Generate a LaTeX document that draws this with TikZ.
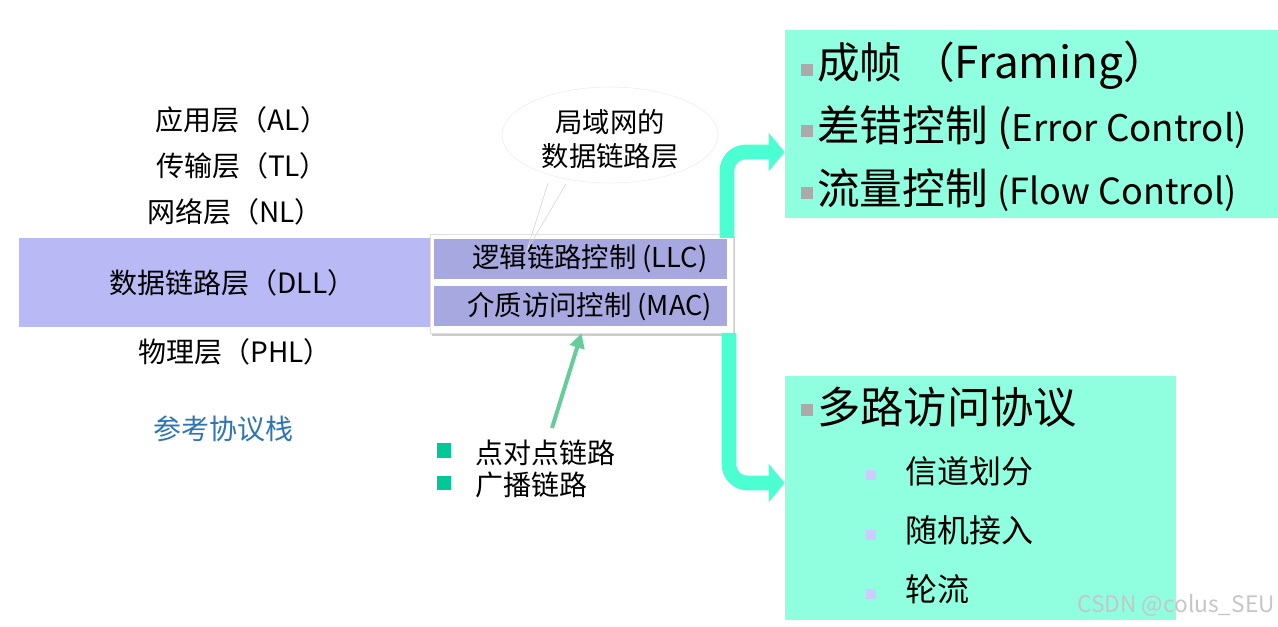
\documentclass[tikz,border=0pt]{standalone}
\usepackage{fontspec}
\setmainfont{Noto Sans CJK SC}
\usetikzlibrary{arrows.meta,shapes.geometric,shadows,calc}
\definecolor{dllfill}{RGB}{185,185,245}
\definecolor{subfill}{RGB}{168,168,224}
\definecolor{boxfill}{RGB}{143,255,224}
\definecolor{bigarr}{RGB}{75,255,210}
\definecolor{thinarr}{RGB}{102,204,153}
\definecolor{bulgreen}{RGB}{0,200,150}
\definecolor{bulgray}{RGB}{170,170,170}
\definecolor{bullav}{RGB}{204,204,255}
\definecolor{stackblue}{RGB}{46,117,182}
\newcommand{\fs}[1]{\fontsize{#1}{#1}\selectfont}
\tikzset{
  lbl/.style={inner sep=0pt, font=\fs{21pt}},
  subbox/.style={rectangle, fill=subfill, inner sep=0pt, minimum width=219.75pt, minimum height=30pt, font=\fs{20.5pt}},
  tealbox/.style={rectangle, fill=boxfill, inner sep=0pt},
  bigarrow/.style={draw=bigarr, line width=11pt, rounded corners=14pt, -{Triangle[length=12pt,width=28pt]}},
  sqg/.style={rectangle, fill=bulgray, inner sep=0pt, minimum size=9.5pt},
  sql/.style={rectangle, fill=bullav, inner sep=0pt, minimum size=8pt},
  sqgreen/.style={rectangle, fill=bulgreen, inner sep=0pt, minimum size=11pt},
}
\begin{document}
\begin{tikzpicture}[x=0.75pt,y=-0.75pt]
\useasboundingbox (0,0) rectangle (1278,627);
\fill[white] (0,0) rectangle (1278,627);

% left stack
\node[lbl] (al) at (242,120) {应用层（AL）};
\node[lbl] (tl) at (242,166) {传输层（TL）};
\node[lbl] (nl) at (235,212) {网络层（NL）};
\node[rectangle, fill=dllfill, inner sep=0pt, minimum width=308.25pt, minimum height=66.75pt, font=\fs{21pt}] (dll) at (224.5,282.5) {\hspace*{12pt}数据链路层（DLL）};
\node[lbl] (phl) at (235,352) {物理层（PHL）};
\node[lbl, text=stackblue] (stack) at (223,429) {参考协议栈};

% sublayer container
\node[rectangle, fill=white, draw=gray!25, inner sep=0pt, minimum width=227.25pt, minimum height=74.25pt, drop shadow={shadow xshift=1.5pt, shadow yshift=-2.5pt, opacity=0.4}] (cont) at (581.5,283.5) {};
\node[subbox] (llc) at (580.5,259) {\hspace*{14pt}逻辑链路控制 (LLC)};
\node[subbox] (mac) at (580.5,306.5) {\hspace*{14pt}介质访问控制 (MAC)};

% callout
\node[ellipse, draw=gray!15, fill=white, minimum width=162pt, minimum height=72pt, inner sep=0pt] (call) at (610,135) {};
\coordinate (tail) at (527,250);
\draw[gray!30, line width=0.5pt] (548,183) -- (tail) -- (566,184);
\node[lbl, align=center, font=\fs{20.5pt}] (calltxt) at (610,139) {局域网的\\[5pt]数据链路层};

% link types
\node[sqgreen] (b1) at (444,450.5) {};
\node[sqgreen] (b2) at (444,483) {};
\node[lbl, anchor=west] (p2p) at (475,453) {点对点链路};
\node[lbl, anchor=west] (bc) at (475,485) {广播链路};
\coordinate (garrs) at (552,428);
\draw[thinarr, line width=3pt, -{Triangle[length=11pt,width=11pt]}] (garrs) -- (cont.south);

% right boxes
\node[tealbox, minimum width=369.75pt, minimum height=141pt] (top) at (1031.5,124) {};
\node[tealbox, minimum width=293.25pt, minimum height=183pt] (bot) at (980.5,498) {};

\node[sqg] (t1) at (807,70) {};
\node[sqg] (t2) at (807,131) {};
\node[sqg] (t3) at (807,193) {};
\node[anchor=west, inner sep=0pt, font=\fs{32pt}] (framing) at (817,65) {成帧 （\fs{33pt}Framing）};
\node[anchor=west, inner sep=0pt, font=\fs{32pt}] (err) at (817,128) {差错控制 {\fs{32pt}(}{\fs{27.5pt}Error Control)}};
\node[anchor=west, inner sep=0pt, font=\fs{32pt}] (flow) at (817,190) {流量控制 {\fs{27pt}(Flow Control)}};

\node[sqg] (m0) at (807,410) {};
\node[anchor=west, inner sep=0pt, font=\fs{32.5pt}] (mac2) at (817,407) {多路访问协议};
\node[sql] (s1) at (871,475) {};
\node[sql] (s2) at (871,535) {};
\node[sql] (s3) at (871,594) {};
\node[anchor=west, inner sep=0pt, font=\fs{24pt}] (ch) at (905,471) {信道划分};
\node[anchor=west, inner sep=0pt, font=\fs{24pt}] (ra) at (905,530) {随机接入};
\node[anchor=west, inner sep=0pt, font=\fs{24pt}] (tk) at (905,589) {轮流};

% big arrows
\coordinate (a1s) at (727,238);
\coordinate (a2s) at (729,333);
\draw[bigarrow] (a1s) |- ($(top.west)+(0,28)$);
\draw[bigarrow] (a2s) |- ($(bot.west)+(0,-15)$);

% watermark
\node[anchor=east, inner sep=0pt, text=gray!45, font=\fs{17pt}] (wm) at (1275,605) {CSDN @colus\_SEU};
\end{tikzpicture}
\end{document}
